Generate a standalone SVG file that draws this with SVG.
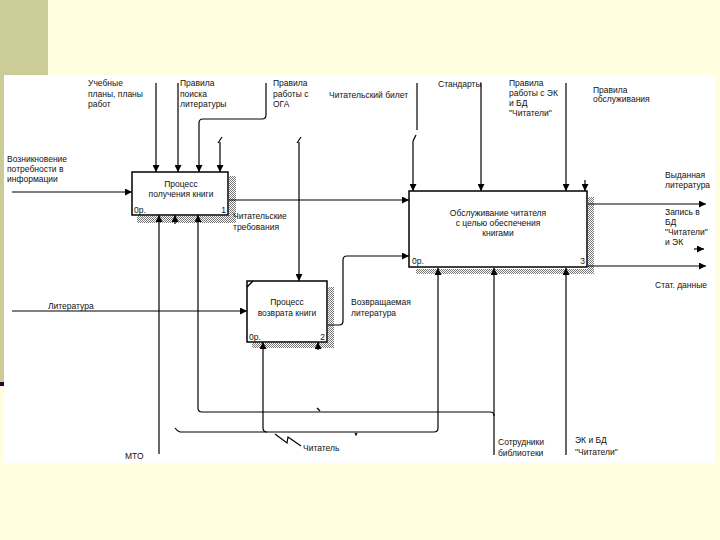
<svg xmlns="http://www.w3.org/2000/svg" width="720" height="540" viewBox="0 0 720 540">
<defs>
<style>
.t{font-family:"Liberation Sans",Arial,sans-serif;font-size:8.5px;fill:#111}
.m{text-anchor:middle}
.e{text-anchor:end}
.c{fill:none;stroke:#000;stroke-width:1.2}
.a{marker-end:url(#ah)}
.box{fill:#fff;stroke:#000;stroke-width:1.5}
.sh{fill:url(#dots)}
</style>
<pattern id="dots" width="2" height="2" patternUnits="userSpaceOnUse">
<rect width="2" height="2" fill="#fff"/>
<rect width="1" height="1" fill="#777"/>
<rect x="1" y="1" width="1" height="1" fill="#777"/>
</pattern>
<marker id="ah" viewBox="0 0 8 8" markerUnits="userSpaceOnUse" markerWidth="7" markerHeight="7" refX="8" refY="4" orient="auto">
<path d="M0,0 L8,4 L0,8 z" fill="#000"/>
</marker>
</defs>
<rect width="720" height="540" fill="#FFFFE0"/>
<rect x="0" y="0" width="48" height="75" fill="#CCCC99"/>
<rect x="0" y="75" width="4" height="307" fill="#CCCC99"/>
<rect x="0" y="382" width="4" height="4" fill="#330033"/>
<rect x="4" y="75" width="711" height="388" fill="#fff"/>

<g id="node1">
<rect class="sh" x="229" y="176" width="7" height="47"/>
<rect class="sh" x="137" y="216" width="99" height="7"/>
<rect class="box" x="132" y="172" width="96" height="43"/>
<text class="t m" x="181" y="187">Процесс</text>
<text class="t m" x="181" y="197">получения книги</text>
<text class="t" x="134" y="213">0р.</text>
<text class="t e" x="226" y="213">1</text>
</g>

<g id="node2">
<rect class="sh" x="328" y="287" width="6" height="61"/>
<rect class="sh" x="252" y="343" width="82" height="5"/>
<rect class="box" x="247" y="281" width="80" height="61"/>
<path d="M247,287 L253,281" fill="none" stroke="#000" stroke-width="1.5"/>
<text class="t m" x="287" y="305">Процесс</text>
<text class="t m" x="287" y="316">возврата книги</text>
<text class="t" x="249" y="340">0р.</text>
<text class="t e" x="325" y="340">2</text>
</g>

<g id="node3">
<rect class="sh" x="588" y="197" width="6" height="77"/>
<rect class="sh" x="416" y="269" width="178" height="5"/>
<rect class="box" x="409" y="191" width="178" height="76" stroke-width="2.5"/>
<text class="t m" x="498" y="216">Обслуживание читателя</text>
<text class="t m" x="498" y="226">с целью обеспечения</text>
<text class="t m" x="498" y="236">книгами</text>
<text class="t" x="412" y="264">0р.</text>
<text class="t e" x="585" y="264">3</text>
</g>

<g id="connectors">
<path class="c a" d="M12,192 H132"/>
<path class="c a" d="M12,311 H247"/>
<path class="c a" d="M156,83 V172"/>
<path class="c a" d="M178,83 V172"/>
<path class="c a" d="M266,83 V115 Q266,119 262,119 H203 Q199,119 199,123 V172"/>
<path class="c a" d="M220,142 V172"/>
<path class="c" d="M218,143 L222,137"/>
<path class="c a" d="M229,200 H409"/>
<path class="c a" d="M299,142 V281"/>
<path class="c" d="M297,143 L301,137"/>
<path class="c" d="M417,83 V130"/>
<path class="c" d="M413,141 L416,135"/>
<path class="c a" d="M413,141 V191"/>
<path class="c a" d="M481,83 V191"/>
<path class="c a" d="M566,83 V191"/>
<path class="c a" d="M585,180 V191"/>
<path class="c a" d="M328,325 H339 Q343,325 343,321 V260 Q343,256 347,256 H409"/>
<path class="c a" d="M588,204 H706"/>
<path class="c a" d="M694,249 H704"/>
<path class="c a" d="M588,266 H706"/>
<path class="c a" d="M159,454 V215"/>
<path class="c a" d="M175,224 V215"/>
<path class="c a" d="M494,455 V268"/>
<path class="c a" d="M494,416 Q494,412 490,412 H202 Q198,412 198,408 V215"/>
<path class="c" d="M317,408 L320,411"/>
<path class="c a" d="M180,432 H434 Q438,432 438,428 V268"/>
<path class="c" d="M175,428 Q177,431 180,432"/>
<path class="c a" d="M267,432 Q263,432 263,428 V342"/>
<path class="c" d="M355,433 L356,435 L357,433"/>
<path class="c a" d="M318,350 V342"/>
<path class="c a" d="M566,455 V268"/>
<polyline class="c" points="275,434 287,443 288,437 301,446"/>
</g>

<g id="labels">
<text class="t" x="88" y="86">Учебные</text>
<text class="t" x="88" y="96.5">планы, планы</text>
<text class="t" x="88" y="106.5">работ</text>
<text class="t" x="180" y="86">Правила</text>
<text class="t" x="180" y="96.5">поиска</text>
<text class="t" x="180" y="106.5">литературы</text>
<text class="t" x="273" y="86">Правила</text>
<text class="t" x="273" y="96.5">работы с</text>
<text class="t" x="273" y="106.5">ОГА</text>
<text class="t" x="329" y="98">Читательский билет</text>
<text class="t" x="438" y="87">Стандарты</text>
<text class="t" x="509" y="86">Правила</text>
<text class="t" x="509" y="96">работы с ЭК</text>
<text class="t" x="509" y="106">и БД</text>
<text class="t" x="509" y="116">"Читатели"</text>
<text class="t" x="593" y="93">Правила</text>
<text class="t" x="593" y="102">обслуживания</text>
<text class="t" x="7" y="162">Возникновение</text>
<text class="t" x="7" y="172">потребности в</text>
<text class="t" x="7" y="182">информации</text>
<text class="t" x="233" y="219">Читательские</text>
<text class="t" x="233" y="230">требования</text>
<text class="t" x="48" y="309">Литература</text>
<text class="t" x="351" y="305">Возвращаемая</text>
<text class="t" x="351" y="316">литература</text>
<text class="t" x="665" y="178">Выданная</text>
<text class="t" x="665" y="188">литература</text>
<text class="t" x="665" y="215">Запись в</text>
<text class="t" x="665" y="225">БД</text>
<text class="t" x="665" y="235">"Читатели"</text>
<text class="t" x="665" y="245">и ЭК</text>
<text class="t" x="655" y="288">Стат. данные</text>
<text class="t" x="125" y="459">МТО</text>
<text class="t" x="303" y="451">Читатель</text>
<text class="t" x="498" y="445">Сотрудники</text>
<text class="t" x="498" y="456">библиотеки</text>
<text class="t" x="575" y="443">ЭК и БД</text>
<text class="t" x="575" y="455">"Читатели"</text>
</g>
</svg>
